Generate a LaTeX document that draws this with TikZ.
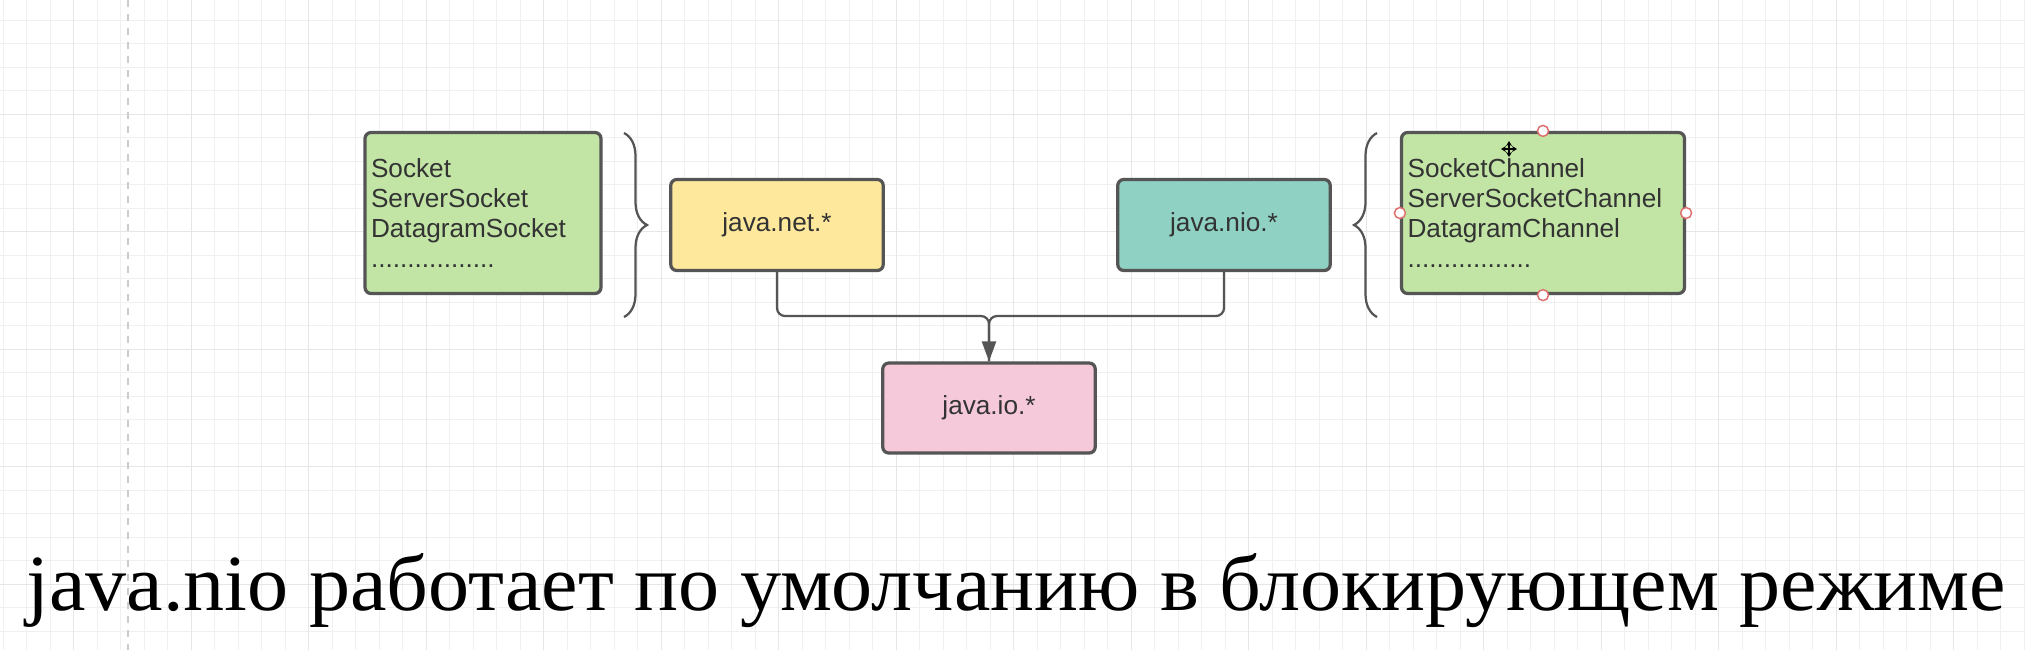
\documentclass[tikz,border=0pt]{standalone}
\usepackage{fontspec}
\setmainfont{Liberation Sans}
\newfontfamily\captionfont{Liberation Serif}
\usetikzlibrary{arrows.meta,decorations.pathreplacing}
\definecolor{boxline}{HTML}{555555}
\definecolor{listgreen}{HTML}{C2E5A6}
\definecolor{netyellow}{HTML}{FDE89C}
\definecolor{nioteal}{HTML}{8FD1C3}
\definecolor{iopink}{HTML}{F6C9DA}
\definecolor{gridminor}{HTML}{F0F0F0}
\definecolor{gridmajor}{HTML}{E6E6E6}
\definecolor{handlered}{HTML}{E07070}

\begin{document}
\begin{tikzpicture}[x=0.02cm, y=-0.02cm,
    pkg/.style={draw=boxline, line width=0.065cm, rounded corners=0.12cm,
        text=black!80, font=\fontsize{14.9pt}{17.07pt}\selectfont},
    pkgbox/.style={pkg, minimum width=4.25cm, minimum height=1.82cm},
    listbox/.style={pkg, fill=listgreen, minimum height=3.22cm, inner xsep=0.12cm, align=left},
    link/.style={draw=boxline, line width=0.045cm, rounded corners=0.16cm},
    bracket/.style={draw=boxline, line width=0.045cm, decorate,
        decoration={brace, amplitude=0.46cm}},
    handle/.style={draw=handlered, fill=white, line width=0.03cm},
    movearrow/.style={line width=0.035cm, {Stealth[length=0.1cm, width=0.12cm]}-{Stealth[length=0.1cm, width=0.12cm]}}]
    \useasboundingbox (0,0) rectangle (2025,650);
    \fill[white] (0,0) rectangle (2025,650);
    % grid of the drawing area
    \foreach \i [evaluate=\i as \gx using 3.2+23.5*\i] in {0,...,86}
        \draw[gridminor, line width=0.02cm] (\gx,0) -- (\gx,650);
    \foreach \j [evaluate=\j as \gy using -3.4+23.5*\j] in {1,...,28}
        \draw[gridminor, line width=0.02cm] (0,\gy) -- (2025,\gy);
    \foreach \i [evaluate=\i as \gx using 3.2+23.5*(5*\i+3)] in {0,...,16}
        \draw[gridmajor, line width=0.02cm] (\gx,0) -- (\gx,650);
    \foreach \j [evaluate=\j as \gy using -3.4+23.5*5*\j] in {1,...,5}
        \draw[gridmajor, line width=0.02cm] (0,\gy) -- (2025,\gy);
    \draw[black!20, line width=0.04cm, dash pattern=on 0.14cm off 0.14cm] (128,0) -- (128,650);

    \node[listbox, text width=4.48cm] (socketList) at (483,213)
        {Socket\\ServerSocket\\DatagramSocket\\.................};
    \node[pkgbox, fill=netyellow] (netPkg) at (777,225) {java.net.*};
    \node[pkgbox, fill=nioteal] (nioPkg) at (1224,225) {java.nio.*};
    \node[listbox, text width=5.42cm] (channelList) at (1543,213)
        {SocketChannel\\ServerSocketChannel\\DatagramChannel\\.................};
    \node[pkgbox, fill=iopink, minimum height=1.8cm] (ioPkg) at (989,408) {java.io.*};

    \draw[bracket] (624,133) -- (624,317);
    \draw[bracket] (1377,317) -- (1377,133);

    \coordinate (join) at (989,316);
    \draw[link] (nioPkg.south) |- (join) -- (ioPkg.north);
    \draw[link, -{Triangle[length=0.4cm, width=0.28cm]}] (netPkg.south) |- (join) -- (ioPkg.north);

    % selection handles and cursor
    \foreach \a in {north,south,east,west}
        \draw[handle] (channelList.\a) circle (0.11cm);
    \coordinate (cursor) at (1509,149);
    \draw[movearrow] ([xshift=-0.16cm]cursor) -- ([xshift=0.16cm]cursor);
    \draw[movearrow] ([yshift=-0.16cm]cursor) -- ([yshift=0.16cm]cursor);

    \node[anchor=base west, inner sep=0] (caption) at (26,610)
        {\resizebox{39.6cm}{1.14cm}{\captionfont java.nio работает по умолчанию в блокирующем режиме}};
\end{tikzpicture}
\end{document}
